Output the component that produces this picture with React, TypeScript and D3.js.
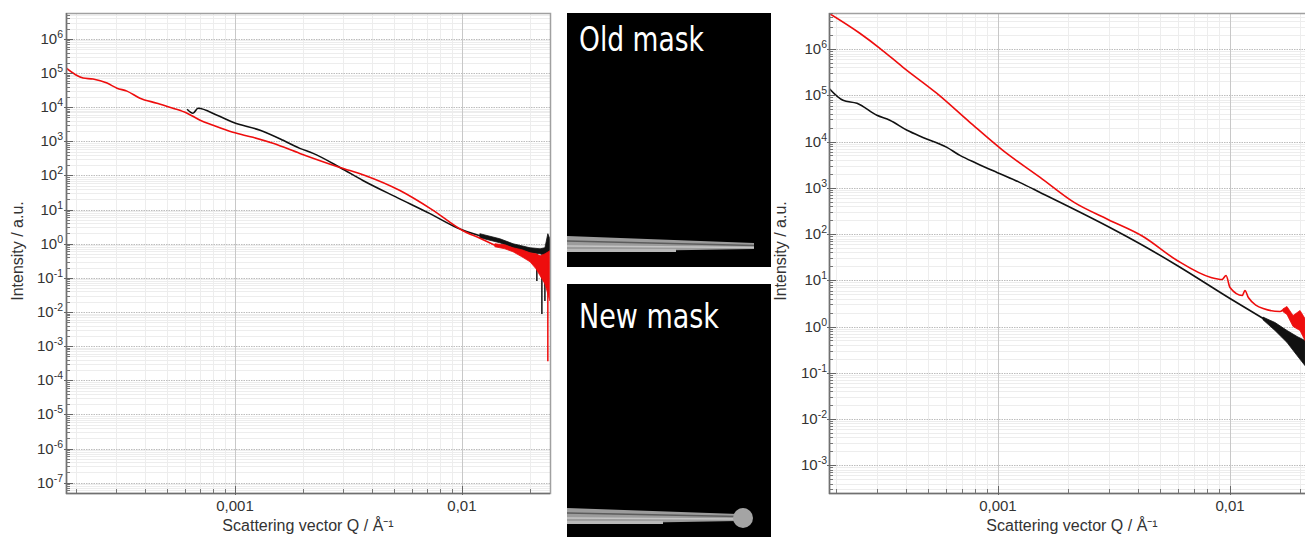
import React, { useEffect, useRef } from 'react';
import * as d3 from 'd3';

// ---- left plot (old mask vs new mask, same scale) ----
const leftRedQ = [1.8e-4, 2.14e-4, 2.37e-4, 2.73e-4, 3.02e-4, 3.34e-4, 3.81e-4, 4.53e-4, 5.33e-4, 6.15e-4, 7.02e-4, 8.0e-4, 9.79e-4, 1.2e-3, 1.47e-3, 1.93e-3, 2.9e-3, 3.74e-3, 5.33e-3, 7.38e-3, 1.01e-2, 1.2e-2, 1.4e-2];
const leftRedI = [1.41e5, 7.13e4, 6.67e4, 5.08e4, 3.62e4, 2.96e4, 1.84e4, 1.31e4, 9.35e3, 6.67e3, 4.15e3, 2.96e3, 1.84e3, 1.31e3, 873, 444, 172, 100, 36.2, 10, 2.41, 1.45, 0.9];

const leftBlackQ = [6.15e-4, 6.53e-4, 6.87e-4, 8.34e-4, 9.79e-4, 1.29e-3, 1.63e-3, 1.93e-3, 2.21e-3, 2.9e-3, 3.66e-3, 5.18e-3, 7.23e-3, 9.51e-3, 1.199e-2];
const leftBlackI = [8.73e3, 6.67e3, 9.35e3, 5.82e3, 3.62e3, 2.11e3, 1.07e3, 622, 444, 172, 71.3, 22.5, 7.62, 2.96, 1.72];

// noisy tails at high Q: upper / lower envelope
const leftRedBandQ = [0.01396, 0.01545, 0.01679, 0.01837, 0.01995, 0.0212, 0.0221, 0.0232, 0.0244];
const leftRedBandHi = [1.0, 0.935, 0.762, 0.667, 0.543, 0.508, 0.444, 0.508, 0.622];
const leftRedBandLo = [0.817, 0.713, 0.582, 0.415, 0.296, 0.184, 0.115, 0.0666, 0.0211];

const leftBlackBandQ = [0.01199, 0.01469, 0.01679, 0.01995, 0.0221, 0.0232, 0.0239, 0.0244];
const leftBlackBandHi = [1.97, 1.4, 1.0, 0.762, 0.713, 0.762, 1.97, 1.4];
const leftBlackBandLo = [1.5, 1.07, 0.762, 0.543, 0.508, 0.444, 0.508, 0.622];

const leftBlackSpikeQ = [0.02138, 0.0225, 0.0232];
const leftBlackSpikeTop = [0.5, 0.45, 0.45];
const leftBlackSpikeBottom = [0.0816, 0.0087, 0.021];
const leftRedSpikeQ = [0.0239];
const leftRedSpikeTop = [0.3];
const leftRedSpikeBottom = [3.6e-4];

// ---- right plot ----
const rightRedQ = [1.87e-4, 2.54e-4, 3.1e-4, 3.9e-4, 5.46e-4, 7.57e-4, 1.05e-3, 1.52e-3, 2.13e-3, 2.98e-3, 4.22e-3, 5.92e-3, 8.28e-3, 9.24e-3, 9.62e-3, 1.0e-2, 1.13e-2, 1.16e-2, 1.2e-2, 1.39e-2, 1.64e-2, 1.69e-2];
const rightRedI = [5.96e6, 2.2e6, 1.04e6, 4.04e5, 1.1e5, 2.61e4, 6.45e3, 1.68e3, 483, 207, 88.7, 26.8, 11.5, 10.4, 12.7, 6.98, 4.69, 6.01, 4.24, 2.45, 2.11, 2.3];

const rightBlackQ = [1.87e-4, 2.15e-4, 2.47e-4, 3.01e-4, 3.42e-4, 4.06e-4, 4.75e-4, 6.03e-4, 6.86e-4, 8.11e-4, 9.9e-4, 1.24e-3, 1.52e-3, 2.98e-3, 4.22e-3, 5.92e-3, 1.0e-2, 1.39e-2];
const rightBlackI = [1.42e5, 7.8e4, 6.71e4, 3.69e4, 2.88e4, 1.75e4, 1.23e4, 7.48e3, 5.02e3, 3.37e3, 2.15e3, 1.31e3, 795, 146, 56.6, 20.9, 4.04, 1.49];

const rightRedBandQ = [0.0169, 0.0176, 0.0187, 0.02004, 0.02104];
const rightRedBandHi = [2.4, 2.71, 1.73, 2.22, 1.49];
const rightRedBandLo = [2.1, 1.82, 1.0, 0.819, 0.498];

const rightBlackBandQ = [0.01387, 0.01563, 0.01762, 0.01946, 0.02104];
const rightBlackBandHi = [1.6, 1.22, 0.819, 0.608, 0.498];
const rightBlackBandLo = [1.4, 0.819, 0.451, 0.236, 0.143];

const xTickValues = [0.001, 0.01];
const xTickLabels = ['0,001', '0,01'];

const RED = '#ee0d0d';
const BLACK = '#111111';
const TOP = 13;
const BOTTOM = 493;

type Series = { q: number[]; i: number[]; color: string };
type Band = { q: number[]; hi: number[]; lo: number[]; color: string };
type Spikes = { q: number[]; top: number[]; bottom: number[]; color: string };

type Panel = {
  id: string;
  xRange: [number, number];
  xDomain: [number, number];
  yDomain: [number, number];
  tickLabelRight: number;
  yTitleX: number;
  xTitleX: number;
  lines: Series[];
  bands: Band[];
  spikes: Spikes[];
};

const panels: Panel[] = [
  {
    id: 'left',
    xRange: [66, 550],
    xDomain: [1.8e-4, 0.02443],
    yDomain: [5.0e-8, 5.75e6],
    tickLabelRight: 63,
    yTitleX: 23,
    xTitleX: 308,
    lines: [
      { q: leftBlackQ, i: leftBlackI, color: BLACK },
      { q: leftRedQ, i: leftRedI, color: RED },
    ],
    bands: [
      { q: leftBlackBandQ, hi: leftBlackBandHi, lo: leftBlackBandLo, color: BLACK },
      { q: leftRedBandQ, hi: leftRedBandHi, lo: leftRedBandLo, color: RED },
    ],
    spikes: [
      { q: leftBlackSpikeQ, top: leftBlackSpikeTop, bottom: leftBlackSpikeBottom, color: BLACK },
      { q: leftRedSpikeQ, top: leftRedSpikeTop, bottom: leftRedSpikeBottom, color: RED },
    ],
  },
  {
    id: 'right',
    xRange: [829, 1320],
    xDomain: [1.871e-4, 0.02443],
    yDomain: [2.51e-4, 6.03e6],
    tickLabelRight: 827,
    yTitleX: 786,
    xTitleX: 1072,
    lines: [
      { q: rightBlackQ, i: rightBlackI, color: BLACK },
      { q: rightRedQ, i: rightRedI, color: RED },
    ],
    bands: [
      { q: rightBlackBandQ, hi: rightBlackBandHi, lo: rightBlackBandLo, color: BLACK },
      { q: rightRedBandQ, hi: rightRedBandHi, lo: rightRedBandLo, color: RED },
    ],
    spikes: [],
  },
];

const FONT = '"Liberation Sans", Arial, sans-serif';

function drawPanel(svg: d3.Selection<SVGSVGElement, unknown, null, undefined>, p: Panel) {
  const x = d3.scaleLog().domain(p.xDomain).range(p.xRange);
  const y = d3.scaleLog().domain(p.yDomain).range([BOTTOM, TOP]);
  const [x0, x1] = p.xRange;
  const g = svg.append('g');

  const decades = (dom: [number, number]) => {
    const a = Math.floor(Math.log10(dom[0]));
    const b = Math.ceil(Math.log10(dom[1]));
    const major: number[] = [];
    const minor: number[] = [];
    for (let k = a; k <= b; k++) {
      const v = Math.pow(10, k);
      if (v >= dom[0] && v <= dom[1]) major.push(v);
      for (let m = 2; m <= 9; m++) {
        const w = m * v;
        if (w >= dom[0] && w <= dom[1]) minor.push(w);
      }
    }
    return { major, minor };
  };
  const yt = decades(p.yDomain);
  const xt = decades(p.xDomain);
  const px = (v: number) => Math.round(v) + 0.5;

  // minor grid
  g.selectAll('line.ymg').data(yt.minor).enter().append('line')
    .attr('x1', x0).attr('x2', x1).attr('y1', (d) => px(y(d))).attr('y2', (d) => px(y(d)))
    .attr('stroke', '#ededed');
  g.selectAll('line.xmg').data(xt.minor).enter().append('line')
    .attr('y1', TOP).attr('y2', BOTTOM).attr('x1', (d) => px(x(d))).attr('x2', (d) => px(x(d)))
    .attr('stroke', '#ededed');
  // major grid
  g.selectAll('line.yMg').data(yt.major).enter().append('line')
    .attr('x1', x0).attr('x2', x1).attr('y1', (d) => px(y(d))).attr('y2', (d) => px(y(d)))
    .attr('stroke', '#bdbdbd').attr('stroke-dasharray', '1.5 1');
  g.selectAll('line.xMg').data(xTickValues).enter().append('line')
    .attr('y1', TOP).attr('y2', BOTTOM).attr('x1', (d) => px(x(d))).attr('x2', (d) => px(x(d)))
    .attr('stroke', '#c8c8c8');

  // data
  const clipId = `clip-${p.id}`;
  svg.append('clipPath').attr('id', clipId).append('rect')
    .attr('x', x0).attr('y', TOP).attr('width', x1 - x0).attr('height', BOTTOM - TOP);
  const data = g.append('g').attr('clip-path', `url(#${clipId})`);

  p.lines.forEach((s, n) => {
    const pts = s.q.map((q, k) => [x(q), y(s.i[k])] as [number, number]);
    data.append('path').attr('d', d3.line().curve(d3.curveMonotoneX)(pts) || '')
      .attr('fill', 'none').attr('stroke', s.color).attr('stroke-width', 1.6)
      .attr('stroke-linejoin', 'round');
    const b = p.bands[n];
    if (b) {
      const area = d3.area<number>()
        .x((q) => x(q))
        .y0((q, k) => y(b.lo[k]))
        .y1((q, k) => y(b.hi[k]));
      data.append('path').attr('d', area(b.q) || '')
        .attr('fill', b.color).attr('stroke', b.color).attr('stroke-width', 0.8)
        .attr('stroke-linejoin', 'round');
    }
    const sp = p.spikes[n];
    if (sp) {
      data.selectAll(null).data(sp.q).enter().append('line')
        .attr('x1', (q) => x(q)).attr('x2', (q) => x(q))
        .attr('y1', (q, k) => y(sp.top[k])).attr('y2', (q, k) => y(sp.bottom[k]))
        .attr('stroke', sp.color).attr('stroke-width', 1.5);
    }
  });

  // frame
  g.append('rect').attr('x', x0 + 0.5).attr('y', TOP + 0.5)
    .attr('width', x1 - x0).attr('height', BOTTOM - TOP)
    .attr('fill', 'none').attr('stroke', '#a0a0a0').attr('stroke-width', 1.5);
  g.append('line').attr('x1', x0 + 0.5).attr('x2', x0 + 0.5).attr('y1', TOP).attr('y2', BOTTOM + 1)
    .attr('stroke', '#707070').attr('stroke-width', 1.5);
  g.append('line').attr('x1', x0).attr('x2', x1).attr('y1', BOTTOM + 0.5).attr('y2', BOTTOM + 0.5)
    .attr('stroke', '#707070').attr('stroke-width', 1.5);

  // y ticks (inside)
  g.selectAll('line.ytm').data(yt.minor).enter().append('line')
    .attr('x1', x0).attr('x2', x0 + 4).attr('y1', (d) => px(y(d))).attr('y2', (d) => px(y(d)))
    .attr('stroke', '#777');
  g.selectAll('line.ytM').data(yt.major).enter().append('line')
    .attr('x1', x0 - 2).attr('x2', x0 + 7).attr('y1', (d) => px(y(d))).attr('y2', (d) => px(y(d)))
    .attr('stroke', '#666');
  // x ticks (inside)
  g.selectAll('line.xtm').data(xt.minor).enter().append('line')
    .attr('y1', BOTTOM).attr('y2', BOTTOM - 4).attr('x1', (d) => px(x(d))).attr('x2', (d) => px(x(d)))
    .attr('stroke', '#777');
  g.selectAll('line.xtM').data(xTickValues).enter().append('line')
    .attr('y1', BOTTOM + 2).attr('y2', BOTTOM - 7).attr('x1', (d) => px(x(d))).attr('x2', (d) => px(x(d)))
    .attr('stroke', '#666');

  // y tick labels: 10^n
  g.selectAll('text.ylab').data(yt.major).enter().append('text')
    .attr('x', p.tickLabelRight).attr('y', (d) => y(d) + 5)
    .attr('text-anchor', 'end').attr('font-family', FONT).attr('font-size', 15).attr('fill', '#333')
    .each(function (d) {
      const t = d3.select(this);
      t.append('tspan').text('10');
      t.append('tspan').attr('dy', -6).attr('font-size', 10.5).text(String(Math.round(Math.log10(d))));
    });

  // x tick labels
  g.selectAll('text.xlab').data(xTickValues).enter().append('text')
    .attr('x', (d) => x(d)).attr('y', 511)
    .attr('text-anchor', 'middle').attr('font-family', FONT).attr('font-size', 15).attr('fill', '#333')
    .text((d, k) => xTickLabels[k]);

  // titles
  g.append('text').attr('x', p.xTitleX).attr('y', 531).attr('text-anchor', 'middle')
    .attr('font-family', FONT).attr('font-size', 16).attr('fill', '#333')
    .text('Scattering vector Q / Å⁻¹');
  g.append('text').attr('transform', `translate(${p.yTitleX},251) rotate(-90)`).attr('text-anchor', 'middle')
    .attr('font-family', FONT).attr('font-size', 16).attr('fill', '#333')
    .text('Intensity / a.u.');
}

function drawMasks(svg: d3.Selection<SVGSVGElement, unknown, null, undefined>) {
  const g = svg.append('g');
  const maskFont = '"Liberation Sans Narrow", "DejaVu Sans Condensed", "Roboto", sans-serif';

  // Old mask
  g.append('rect').attr('x', 567).attr('y', 13).attr('width', 204).attr('height', 254).attr('fill', '#000');
  g.append('text').attr('x', 579).attr('y', 51).attr('fill', '#fff').attr('font-family', maskFont)
    .attr('font-size', 34).attr('textLength', 125).attr('lengthAdjust', 'spacingAndGlyphs').text('Old mask');
  g.append('polygon').attr('points', '567,236 754,243 754,249 567,252').attr('fill', '#9c9c9c');
  g.append('line').attr('x1', 567).attr('y1', 241).attr('x2', 754).attr('y2', 245.5).attr('stroke', '#5c5c5c').attr('stroke-width', 1.6);
  g.append('line').attr('x1', 567).attr('y1', 246).attr('x2', 754).attr('y2', 247.5).attr('stroke', '#c6c6c6').attr('stroke-width', 1.6);
  g.append('rect').attr('x', 567).attr('y', 249).attr('width', 109).attr('height', 3).attr('fill', '#b8b8b8');

  // New mask
  g.append('rect').attr('x', 567).attr('y', 284).attr('width', 204).attr('height', 260).attr('fill', '#000');
  g.append('text').attr('x', 579).attr('y', 328).attr('fill', '#fff').attr('font-family', maskFont)
    .attr('font-size', 34).attr('textLength', 140).attr('lengthAdjust', 'spacingAndGlyphs').text('New mask');
  g.append('polygon').attr('points', '567,508 738,514 738,521 567,524').attr('fill', '#9c9c9c');
  g.append('line').attr('x1', 567).attr('y1', 513).attr('x2', 738).attr('y2', 516.5).attr('stroke', '#5c5c5c').attr('stroke-width', 1.6);
  g.append('line').attr('x1', 567).attr('y1', 518).attr('x2', 738).attr('y2', 519).attr('stroke', '#c6c6c6').attr('stroke-width', 1.6);
  g.append('rect').attr('x', 567).attr('y', 521).attr('width', 96).attr('height', 3).attr('fill', '#b8b8b8');
  g.append('circle').attr('cx', 743).attr('cy', 518).attr('r', 10).attr('fill', '#a4a4a4');
}

const App: React.FC = () => {
  const ref = useRef<SVGSVGElement>(null);

  useEffect(() => {
    if (!ref.current) return;
    const svg = d3.select(ref.current);
    svg.selectAll('*').remove();
    panels.forEach((p) => drawPanel(svg, p));
    drawMasks(svg);
  }, []);

  return (
    <div style={{ position: 'absolute', left: 0, top: 0, width: 1305, height: 537, overflow: 'hidden', background: '#fff' }}>
      <svg ref={ref} width={1305} height={537} style={{ display: 'block' }} />
    </div>
  );
};

export default App;
